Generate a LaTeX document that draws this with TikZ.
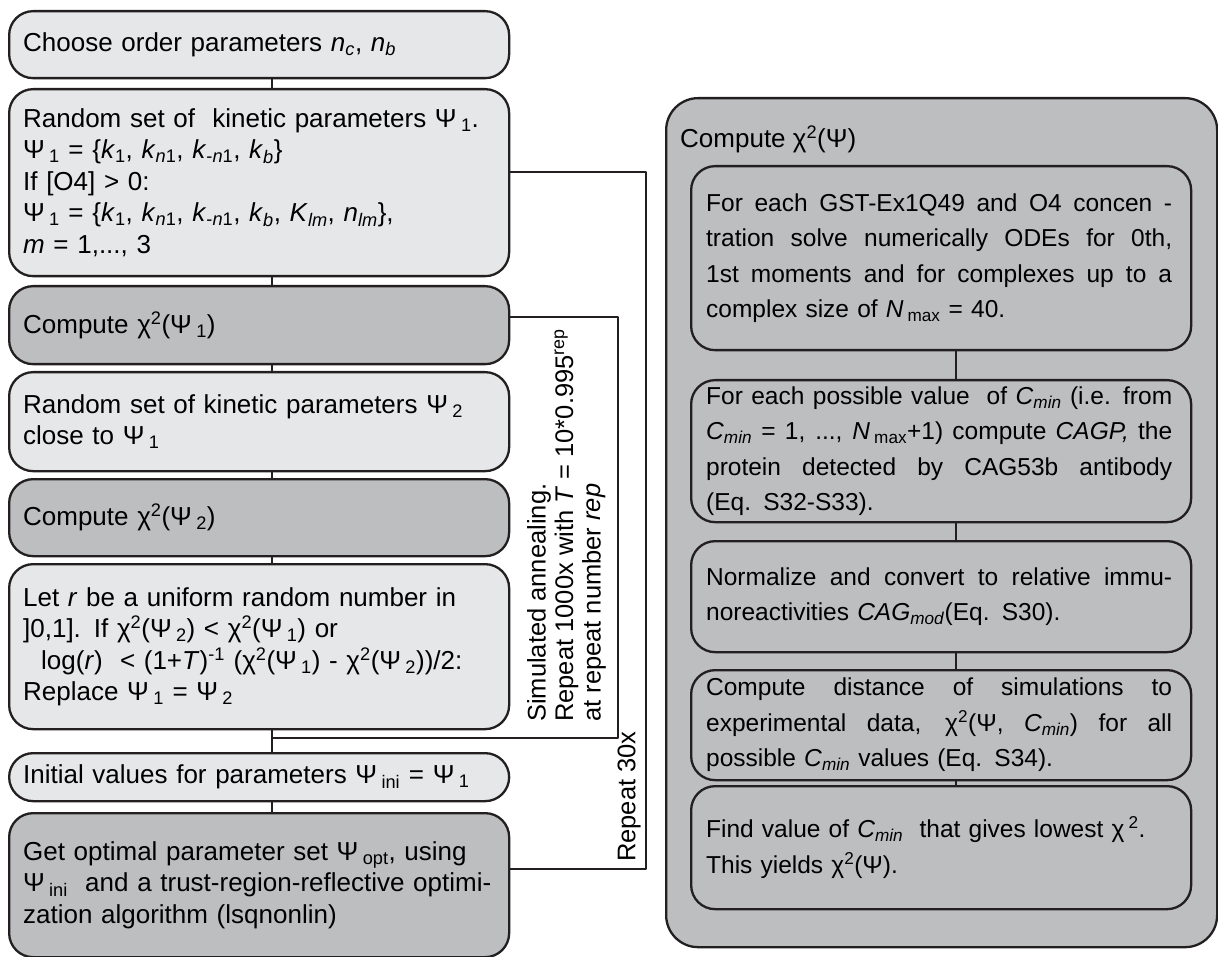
\documentclass[tikz,border=0pt]{standalone}
\usepackage{fontspec}
\setmainfont{Liberation Sans}
\usetikzlibrary{positioning,calc}
\definecolor{boxline}{HTML}{231F20}
\definecolor{lightfill}{HTML}{E6E7E8}
\definecolor{darkfill}{HTML}{BCBEC0}
\newcommand{\Psisub}[1]{Ψ\,\textsubscript{#1}}
\newcommand{\chisq}{χ\textsuperscript{2}}
\newcommand{\Cmin}{\textit{C}\textsubscript{\textit{min}}}
\newcommand{\Nmax}{\textit{N}\,\textsubscript{max}}
\newcommand{\jline}[1]{{\spaceskip=0.278em plus 3em\relax\makebox[466pt][s]{#1}}}

\begin{document}
\begin{tikzpicture}[x=1pt, y=-1pt, line join=round,
  every node/.style={font=\fontsize{26}{31.5}\selectfont},
  stepbox/.style={draw=boxline, line width=2.3pt, rounded corners=24pt, anchor=north west,
    align=left, inner xsep=14pt, inner ysep=4pt, text width=472pt},
  lightbox/.style={stepbox, fill=lightfill},
  darkbox/.style={stepbox, fill=darkfill},
  innerbox/.style={stepbox, fill=darkfill, inner xsep=15pt, text width=470pt,
    font=\fontsize{24.5}{35.5}\selectfont},
  link/.style={draw=boxline, line width=2.3pt},
  loopline/.style={draw=boxline, line width=2pt},
  sidenote/.style={rotate=90, align=left, inner sep=0pt, font=\fontsize{25.5}{27.5}\selectfont}]
  \useasboundingbox (0,0) rectangle (1218,957);

  % --- Left column: fitting steps ---
  \node[lightbox, minimum height=67pt] (choose) at (8,10)
    {Choose order parameters \textit{n}\textsubscript{\textit{c}}, \textit{n}\textsubscript{\textit{b}}};
  \node[lightbox, minimum height=187pt] (rand1) at (8,88)
    {Random set of\ \ kinetic parameters \Psisub{1}.\\
     \Psisub{1} = \{\textit{k}\textsubscript{1}, \textit{k}\textsubscript{\textit{n}1}, \textit{k}\textsubscript{-\textit{n}1}, \textit{k}\textsubscript{\textit{b}}\}\\
     If [O4] > 0:\\
     \Psisub{1} = \{\textit{k}\textsubscript{1}, \textit{k}\textsubscript{\textit{n}1}, \textit{k}\textsubscript{-\textit{n}1}, \textit{k}\textsubscript{\textit{b}}, \textit{K}\textsubscript{\textit{lm}}, \textit{n}\textsubscript{\textit{lm}}\},\\
     \textit{m} = 1,..., 3};
  \node[darkbox, minimum height=78pt] (chi1) at (8,285) {Compute \chisq(\Psisub{1})};
  \node[lightbox, minimum height=99pt] (rand2) at (8,371)
    {Random set of kinetic parameters \Psisub{2}\\close to \Psisub{1}};
  \node[darkbox, minimum height=77pt] (chi2) at (8,478) {Compute \chisq(\Psisub{2})};
  \node[lightbox, minimum height=165pt] (accept) at (8,563)
    {Let \textit{r} be a uniform random number in\\
     ]0,1]. If \chisq(\Psisub{2}) < \chisq(\Psisub{1}) or\\
     \hspace*{18pt}log(\textit{r})\ \ < (1+\textit{T})\textsuperscript{-1} (\chisq(\Psisub{1}) - \chisq(\Psisub{2}))/2:\\
     Replace \Psisub{1} = \Psisub{2}};
  \node[lightbox, minimum height=48pt] (init) at (8,752)
    {Initial values for parameters \Psisub{ini} = \Psisub{1}};
  \node[darkbox, minimum height=144pt] (opt) at (8,812)
    {Get optimal parameter set \Psisub{opt}, using\\
     \Psisub{ini}\ \ and a trust-region-reflective optimi-\\
     zation algorithm (lsqnonlin)};

  % step connectors
  \draw[link] ([xshift=13pt]choose.south) -- ([xshift=13pt]rand1.north);
  \draw[link] ([xshift=13pt]rand1.south) -- ([xshift=13pt]chi1.north);
  \draw[link] ([xshift=13pt]chi1.south) -- ([xshift=13pt]rand2.north);
  \draw[link] ([xshift=13pt]rand2.south) -- ([xshift=13pt]chi2.north);
  \draw[link] ([xshift=13pt]chi2.south) -- ([xshift=13pt]accept.north);
  \draw[link] ([xshift=13pt]accept.south) -- ([xshift=13pt]init.north);
  \draw[link] ([xshift=13pt]init.south) -- ([xshift=13pt]opt.north);

  % --- Loops ---
  \coordinate (sajoin) at (271,738);
  \draw[loopline] ([yshift=8pt]chi1.east) -- ++(108,0) |- (sajoin);
  \node[sidenote, anchor=north west] (annealnote) at (527,722)
    {Simulated annealing.\\
     Repeat 1000x with \textit{T} = 10*0.995\textsuperscript{rep}\\
     at repeat number \textit{rep}};
  \draw[loopline] ([yshift=11pt]rand1.east) -- ++(136,0) |- ([yshift=16pt]opt.east);
  \node[sidenote, anchor=west] (repeatnote) at (629,862) {Repeat 30x};

  % --- Right panel: chi^2 evaluation ---
  \node[draw=boxline, line width=2.3pt, fill=darkfill, rounded corners=32pt, anchor=north west,
    minimum width=551pt, minimum height=849pt, inner sep=0pt] (panel) at (665,97) {};
  \node[anchor=west, inner sep=0pt] (paneltitle) at ([xshift=15pt,yshift=-42pt]panel.north west)
    {Compute \chisq(Ψ)};
  \node[innerbox, minimum height=184pt] (odes) at (690,165)
    {\jline{For each GST-Ex1Q49 and O4 concen -}\\
     \jline{tration solve numerically ODEs for 0th,}\\
     \jline{1st moments and for complexes up to a}\\
     complex size of \Nmax\ = 40.};
  \node[innerbox, minimum height=142pt] (cagp) at (690,379)
    {\jline{For each possible value\ \ of \Cmin\ (i.e. from}\\
     \jline{\Cmin\ = 1, ..., \Nmax+1) compute \textit{CAGP,} the}\\
     \jline{protein detected by CAG53b antibody}\\
     (Eq. S32-S33).};
  \node[innerbox, minimum height=111pt] (norm) at (690,540)
    {\jline{Normalize and convert to relative immu-}\\
     noreactivities \textit{CAG}\textsubscript{\textit{mod}}(Eq. S30).};
  \node[innerbox, minimum height=110pt] (dist) at (690,669)
    {\jline{Compute distance of simulations to}\\
     \jline{experimental data, \chisq(Ψ, \Cmin) for all}\\
     possible \Cmin\ values (Eq. S34).};
  \node[innerbox, minimum height=123pt] (best) at (690,785)
    {Find value of \Cmin\ \ that gives lowest χ\,\textsuperscript{2}.\\
     This yields \chisq(Ψ).};

  \draw[link] ([xshift=15pt]odes.south) -- ([xshift=15pt]cagp.north);
  \draw[link] ([xshift=15pt]cagp.south) -- ([xshift=15pt]norm.north);
  \draw[link] ([xshift=15pt]norm.south) -- ([xshift=15pt]dist.north);
  \draw[link] ([xshift=15pt]dist.south) -- ([xshift=15pt]best.north);
\end{tikzpicture}
\end{document}
